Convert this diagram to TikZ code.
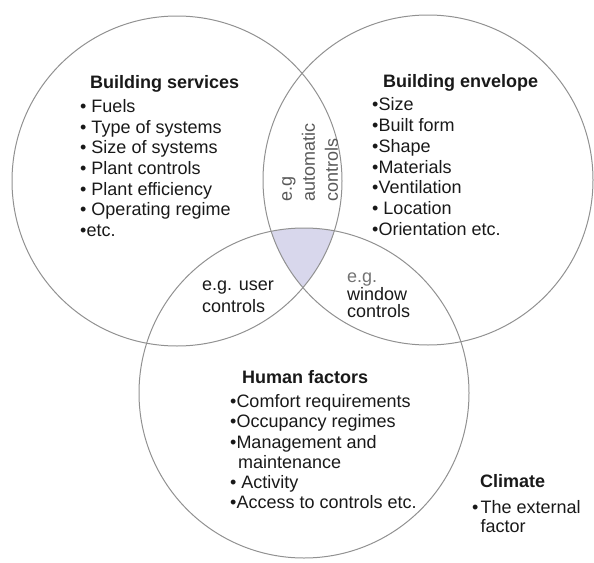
\documentclass[tikz,border=0pt]{standalone}
\usepackage{fontspec}
\setmainfont{Liberation Sans}
\usepackage{tikz}
\definecolor{lilac}{RGB}{216,215,236}
\definecolor{rim}{RGB}{145,145,145}
\tikzset{
	venn/.style={draw=rim, line width=1pt},
	txt/.style={anchor=north west, inner sep=0pt, align=left, text=black!90,
		font=\fontsize{18}{20.7}\selectfont},
}

\begin{document}
\begin{tikzpicture}[x=1pt,y=-1pt]
		\useasboundingbox (0,0) rectangle (594,562);
		\coordinate (S) at (177,181); % services
		\coordinate (E) at (428,180); % envelope
		\coordinate (H) at (304,393); % human factors
		\begin{scope} % common part of all three
		\clip (S) circle[radius=165pt];
		\clip (E) circle[radius=165pt];
		\fill[lilac] (H) circle[radius=165pt];
		\end{scope}
		\foreach \c in {S,E,H}
		\draw[venn] (\c) circle[radius=165pt];
		% texts
		\node[txt] (services) at (80,75.4) {\hspace*{10pt}\textbf{Building services}\\[3pt]
			• Fuels\\ • Type of systems\\ • Size of systems\\ • Plant controls\\
			• Plant efficiency\\ • Operating regime\\ •etc.};
		\node[txt] (envelope) at (372,74) {\hspace*{11pt}\textbf{Building envelope}\\[3pt]
			•Size\\ •Built form\\ •Shape\\ •Materials\\ •Ventilation\\ • Location\\ •Orientation etc.};
		\node[txt, rotate=90, text=black!65, font=\fontsize{18}{23}\selectfont] (auto)
			at (282,202) {e.g\\ automatic\\ controls};
		\node[txt, font=\fontsize{18}{21.7}\selectfont] (user) at (202,280.7) {e.g. user\\ controls};
		\node[txt, font=\fontsize{18}{17.5}\selectfont] (window) at (347,273)
			{\textcolor{black!55}{e.g.}\\ window\\ controls};
		\node[txt, font=\fontsize{18}{20.2}\selectfont] (human) at (230,370.5)
			{\hspace*{12pt}\textbf{Human factors}\\[3.8pt] •Comfort requirements\\ •Occupancy regimes\\
			•Management and\\ \hspace*{8pt}maintenance\\ • Activity\\ •Access to controls etc.};
		\node[txt, font=\fontsize{18}{18.4}\selectfont] (climate) at (472,474)
			{\hspace*{8pt}\textbf{Climate}\\[8pt] •\hspace{2pt}The external\\ \hspace*{8.3pt}factor};
\end{tikzpicture}
\end{document}
